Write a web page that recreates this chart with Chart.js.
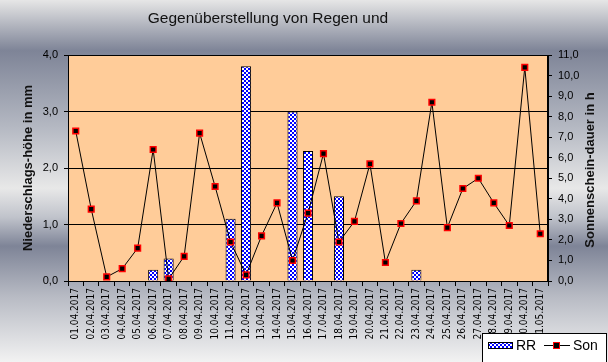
<!DOCTYPE html>
<html>
<head>
<meta charset="utf-8">
<script src="https://cdn.jsdelivr.net/npm/chart.js@4"></script>
<style>
  html, body { margin: 0; padding: 0; }
  body {
    width: 608px; height: 362px; overflow: hidden;
    background: linear-gradient(to bottom, #e6e6e6 0%, #7e8497 14%, #b4b8c2 35%, #e8e8e8 52%, #c0c3cb 60%, #7e8497 68%, #b8bbc4 82%, #f2f2f2 100%);
  }
  canvas { display: block; }
</style>
</head>
<body>
<canvas id="chart" width="608" height="362"></canvas>
<script>
const dates = [
  "01.04.2017", "02.04.2017", "03.04.2017", "04.04.2017", "05.04.2017", "06.04.2017",
  "07.04.2017", "08.04.2017", "09.04.2017", "10.04.2017", "11.04.2017", "12.04.2017",
  "13.04.2017", "14.04.2017", "15.04.2017", "16.04.2017", "17.04.2017", "18.04.2017",
  "19.04.2017", "20.04.2017", "21.04.2017", "22.04.2017", "23.04.2017", "24.04.2017",
  "25.04.2017", "26.04.2017", "27.04.2017", "28.04.2017", "29.04.2017", "30.04.2017",
  "01.05.2017"
];
// RR = Niederschlag in mm (linke Achse)
const rainMm = [0, 0, 0, 0, 0, 0.2, 0.4, 0, 0, 0, 1.1, 3.8, 0, 0, 3.0, 2.3,
  0, 1.5, 0, 0, 0, 0, 0.2, 0, 0, 0, 0, 0, 0, 0, 0];
// Son = Sonnenscheindauer in h (rechte Achse)
const sunHours = [7.3, 3.5, 0.2, 0.6, 1.6, 6.4, 0.1, 1.2, 7.2, 4.6, 1.9, 0.3, 2.2, 3.8, 1.0, 3.3,
  6.2, 1.9, 2.9, 5.7, 0.9, 2.8, 3.9, 8.7, 2.6, 4.5, 5.0, 3.8, 2.7, 10.4, 2.3];

const fmt = v => v.toFixed(1).replace(".", ",");

// blue/white checker like the old Excel fill
function checker() {
  const c = document.createElement("canvas");
  c.width = 4; c.height = 4;
  const g = c.getContext("2d");
  g.fillStyle = "#ffffff"; g.fillRect(0, 0, 4, 4);
  g.fillStyle = "#0000ff";
  g.fillRect(0, 0, 2, 2); g.fillRect(2, 2, 2, 2);
  return g.createPattern(c, "repeat");
}
const rrFill = checker();

const decor = {
  id: "decor",
  beforeDraw(chart) {
    const { ctx, chartArea: a } = chart;
    ctx.save();
    ctx.fillStyle = "#ffcc99";
    ctx.fillRect(a.left, a.top, a.right - a.left, a.bottom - a.top);
    ctx.restore();
  },
  afterDraw(chart) {
    const { ctx, chartArea: a } = chart;
    ctx.save();
    ctx.strokeStyle = "#000";
    ctx.lineWidth = 1;
    ctx.strokeRect(Math.round(a.left) + 0.5, Math.round(a.top) + 0.5, Math.round(a.right - a.left) - 1, Math.round(a.bottom - a.top));

    // title (second line is cut off in the original)
    ctx.fillStyle = "#111";
    ctx.textAlign = "center";
    ctx.textBaseline = "alphabetic";
    ctx.font = '15.5px "Liberation Sans", Arial, sans-serif';
    ctx.fillText("Gegenüberstellung von Regen und", 268, 23);
    ctx.save();
    ctx.beginPath(); ctx.rect(0, 30, 608, 3); ctx.clip();
    ctx.fillText("Sonnenscheindauer in Innsbruck", 268, 44);
    ctx.restore();

    // axis titles
    ctx.font = 'bold 13px "Liberation Sans", Arial, sans-serif';
    ctx.textBaseline = "middle";
    ctx.save();
    ctx.translate(28, 168); ctx.rotate(-Math.PI / 2);
    ctx.fillText("Niederschlags-höhe in mm", 0, 0);
    ctx.restore();
    ctx.save();
    ctx.translate(590, 170); ctx.rotate(-Math.PI / 2);
    ctx.fillText("Sonnenschein-dauer in h", 0, 0);
    ctx.restore();

    // legend box
    ctx.fillStyle = "#fff";
    ctx.fillRect(482, 333, 124, 30);
    ctx.strokeStyle = "#000";
    ctx.strokeRect(482.5, 333.5, 124, 30);
    ctx.fillStyle = rrFill;
    ctx.fillRect(488, 342, 25, 7);
    ctx.strokeRect(488.5, 342.5, 24, 6);
    ctx.font = '14px "Liberation Sans", Arial, sans-serif';
    ctx.fillStyle = "#000";
    ctx.textAlign = "left";
    ctx.fillText("RR", 516, 346);
    ctx.beginPath(); ctx.moveTo(544, 345.5); ctx.lineTo(570, 345.5); ctx.stroke();
    ctx.fillStyle = "#f00"; ctx.fillRect(553, 342, 7, 7);
    ctx.fillStyle = "#000"; ctx.fillRect(554, 343, 5, 5);
    ctx.fillText("Son", 573, 346);
    ctx.restore();
  }
};

new Chart(document.getElementById("chart").getContext("2d"), {
  type: "bar",
  data: {
    labels: dates,
    datasets: [
      {
        type: "line", label: "Son", data: sunHours, yAxisID: "y1", order: 0,
        borderColor: "#000", borderWidth: 1, tension: 0,
        pointStyle: "rect", pointRadius: 4, pointBackgroundColor: "#000",
        pointBorderColor: "#f00", pointBorderWidth: 1.5
      },
      {
        type: "bar", label: "RR", data: rainMm, yAxisID: "y", order: 1,
        backgroundColor: rrFill, borderColor: "#000", borderWidth: 1,
        barPercentage: 0.65, categoryPercentage: 1
      }
    ]
  },
  options: {
    responsive: false,
    animation: false,
    devicePixelRatio: 1,
    layout: { padding: { top: 55, left: 0, right: 0, bottom: 0 } },
    plugins: { legend: { display: false }, title: { display: false }, tooltip: { enabled: false } },
    scales: {
      x: {
        offset: true,
        grid: { offset: true, drawOnChartArea: false, color: "#000", tickLength: 5 },
        border: { color: "#000" },
        ticks: {
          color: "#000", minRotation: 90, maxRotation: 90, autoSkip: false, padding: 2,
          font: { family: "'Liberation Sans Narrow', 'DejaVu Sans Condensed', Arial", size: 10 }
        },
        afterFit(s) { s.height = 81; }
      },
      y: {
        position: "left", min: 0, max: 4,
        grid: { color: "#000", tickLength: 4 },
        border: { color: "#000" },
        ticks: { stepSize: 1, color: "#000", padding: 6, callback: fmt,
          font: { family: "'Liberation Sans', Arial", size: 11 } },
        afterFit(s) { s.width = 68; }
      },
      y1: {
        position: "right", min: 0, max: 11,
        grid: { drawOnChartArea: false, color: "#000", tickLength: 4 },
        border: { color: "#000" },
        ticks: { stepSize: 1, color: "#000", padding: 6, callback: fmt,
          font: { family: "'Liberation Sans', Arial", size: 11 } },
        afterFit(s) { s.width = 60; }
      }
    }
  },
  plugins: [decor]
});
</script>
</body>
</html>
